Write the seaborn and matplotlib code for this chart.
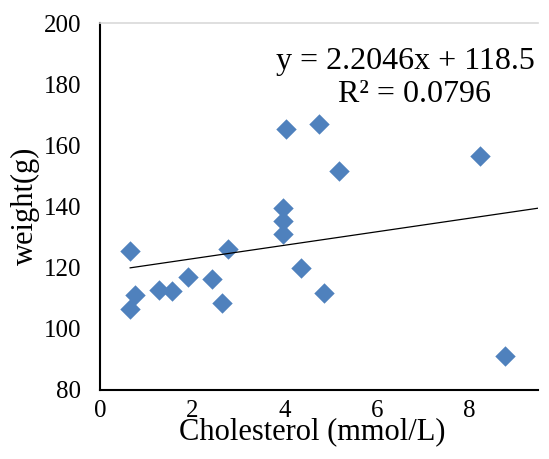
import matplotlib
matplotlib.use("Agg")
import matplotlib.pyplot as plt
import seaborn as sns
import numpy as np
import pandas as pd

# Data
cholesterol = [0.65, 0.76, 0.65, 1.29, 1.56, 1.90, 2.44, 2.64, 2.77, 3.98, 3.98,
               3.98, 4.35, 4.85, 8.79, 4.04, 4.75, 5.18, 8.25]
weight = [125.3, 111.1, 106.4, 112.7, 112.4, 116.8, 116.3, 108.4, 126.1, 139.6,
          135.4, 131.0, 120.0, 111.7, 91.2, 165.3, 167.0, 151.5, 156.5]
slope = 2.2046
intercept = 118.5
trend_end_x = 9.5
x_ticks = [0, 2, 4, 6, 8]
y_ticks = [80, 100, 120, 140, 160, 180, 200]
eq_text = "y = 2.2046x + 118.5"
r2_text = "R\u00b2 = 0.0796"
x_label = "Cholesterol (mmol/L)"
y_label = "weight(g)"

sns.set_theme(style="white")
plt.rcParams['font.family'] = ['Liberation Serif', 'DejaVu Serif']

W, H = 549, 459
fig = plt.figure(figsize=(W / 100, H / 100), dpi=100)
ax = fig.add_axes([100 / W, 1 - 390 / H, 438 / W, 367 / H])

df = pd.DataFrame({"Cholesterol": cholesterol, "weight": weight})
sns.scatterplot(data=df, x="Cholesterol", y="weight", marker="D", s=108,
                color="#4F81BD", linewidth=0, ax=ax, zorder=3)

xs = np.array([min(cholesterol), trend_end_x])
ax.plot(xs, slope * xs + intercept, color="black", lw=0.9, zorder=4)

ax.set_xlim(0, 9.5)
ax.set_ylim(80, 200)
ax.set_xticks(x_ticks)
ax.set_yticks(y_ticks)
ax.set_xticklabels([str(v) for v in x_ticks])
ax.set_yticklabels([str(v) for v in y_ticks])
ax.set_xlabel("")
ax.set_ylabel("")

for s in ["left", "bottom"]:
    ax.spines[s].set_color("black")
    ax.spines[s].set_linewidth(1.5)
ax.spines["right"].set_visible(False)
ax.spines["top"].set_color("#D9D9D9")
ax.spines["top"].set_linewidth(1.2)

ax.tick_params(axis="x", direction="out", length=4, width=1.5, color="black",
               labelsize=18, pad=3, labelcolor="black")
ax.tick_params(axis="y", direction="out", length=5.5, width=1.5, color="black",
               labelsize=18, pad=8, labelcolor="black")

fig.text(312 / W, 1 - 432 / H, x_label, ha="center", va="center", fontsize=22,
         color="black")
fig.text(25 / W, 1 - 206 / H, y_label, ha="center", va="center", rotation=90,
         fontsize=22, color="black")

fig.text(405 / W, 1 - 62 / H, eq_text, ha="center", va="center", fontsize=23,
         color="black")
fig.text(415 / W, 1 - 95 / H, r2_text, ha="center", va="center", fontsize=23,
         color="black")

fig.savefig("out.png", dpi=100)
